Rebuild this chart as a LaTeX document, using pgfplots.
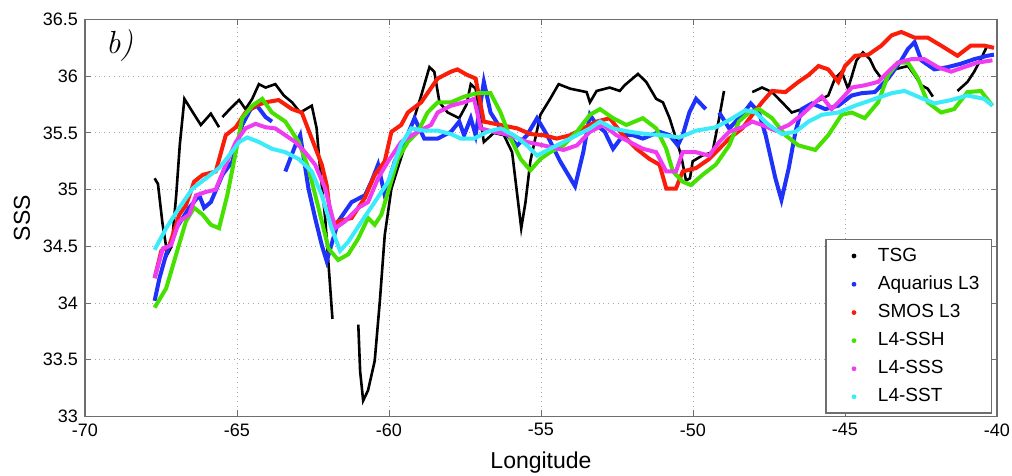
\documentclass[border=0pt]{standalone}
\usepackage{pgfplots}
\pgfplotsset{compat=1.18}
\usepackage{fontspec}
\setmainfont{Liberation Sans}
\newfontfamily\lmserif{Latin Modern Roman}
\definecolor{aqc}{RGB}{30,50,250}
\definecolor{smosc}{RGB}{250,30,10}
\definecolor{sshc}{RGB}{70,225,0}
\definecolor{sssc}{RGB}{240,60,240}
\definecolor{sstc}{RGB}{60,235,250}
\definecolor{framec}{RGB}{110,110,110}
\begin{document}
\begin{tikzpicture}
\begin{axis}[
  scale only axis,
  width=456pt, height=198.5pt,
  xmin=-70, xmax=-40, ymin=33, ymax=36.5,
  xtick={-70,-65,...,-40},
  ytick={33,33.5,...,36.5},
  /pgf/number format/assume math mode=true,
  /pgf/number format/fixed,
  ticklabel style={font=\fontsize{9}{9}\selectfont},
  tick align=inside,
  major tick length=3pt,
  every tick/.style={framec, line width=0.5pt},
  axis line style={framec, line width=0.8pt},
  grid=major,
  major grid style={dotted, gray!70, line width=0.5pt},
  xlabel={Longitude},
  ylabel={SSS},
  label style={font=\fontsize{11.5}{11.5}\selectfont},
  xlabel style={at={(axis description cs:0.5,-0.116)}, anchor=center},
  ylabel style={at={(axis description cs:-0.069,0.5)}, anchor=center},
  unbounded coords=jump,
  legend cell align=left,
  legend image code/.code={\path[draw=none,fill=none] (0pt,0pt) -- (20pt,0pt); \fill[#1,draw=none] (10pt,0pt) circle (1.2pt);},
  legend style={at={(rel axis cs:0.9945,0.0075)}, anchor=south east,
    draw=framec, line width=0.6pt, font=\fontsize{9.5}{9.5}\selectfont,
    row sep=1.9pt, inner xsep=4pt, inner ysep=2pt},
]
% TSG
\addplot[black, line width=1.3pt] coordinates {
(-67.71,35.10) (-67.60,35.05) (-67.45,34.70) (-67.29,34.43) (-67.15,34.50) (-67.00,34.95) (-66.88,35.40) (-66.73,35.80) (-66.45,35.68) (-66.19,35.57) (-65.86,35.67) (-65.59,35.55) (-65.54,nan) (-65.48,35.64) (-65.20,35.72) (-64.93,35.79) (-64.72,35.71) (-64.50,35.80) (-64.28,35.93) (-64.06,35.90) (-63.74,35.93) (-63.46,35.83) (-63.19,35.77) (-62.92,35.68) (-62.54,35.74) (-62.38,35.54) (-62.27,35.19) (-62.10,34.75) (-61.94,34.16) (-61.86,33.86) (-61.40,nan) (-61.01,33.81) (-60.95,33.40) (-60.85,33.14) (-60.69,33.23) (-60.47,33.49) (-60.30,34.02) (-60.14,34.60) (-59.92,35.01) (-59.71,35.19) (-59.40,35.45) (-59.15,35.65) (-58.94,35.83) (-58.67,36.08) (-58.51,36.04) (-58.34,35.77) (-58.07,35.68) (-57.69,35.63) (-57.45,35.75) (-57.31,35.93) (-57.15,35.89) (-56.88,35.42) (-56.55,35.50) (-56.22,35.48) (-55.95,35.33) (-55.78,34.95) (-55.65,34.66) (-55.51,34.89) (-55.35,35.25) (-55.02,35.66) (-54.70,35.80) (-54.42,35.93) (-54.04,35.89) (-53.50,35.86) (-53.39,35.77) (-53.17,35.87) (-52.74,35.90) (-52.41,35.87) (-52.25,35.92) (-51.81,36.02) (-51.54,35.95) (-51.21,35.80) (-50.99,35.77) (-50.77,35.63) (-50.56,35.45) (-50.39,35.30) (-50.23,35.08) (-50.10,35.10) (-50.01,35.25) (-49.70,35.30) (-49.36,35.33) (-49.14,35.63) (-48.98,35.87) (-48.50,nan) (-48.05,35.86) (-47.73,35.90) (-47.40,35.86) (-47.07,35.77) (-46.75,35.68) (-46.42,35.71) (-45.98,35.77) (-45.55,35.83) (-45.33,35.98) (-45.11,36.04) (-44.90,35.89) (-44.62,36.14) (-44.41,36.21) (-44.18,36.15) (-44.02,36.06) (-43.80,35.98) (-43.58,36.01) (-43.37,36.06) (-42.93,36.09) (-42.71,36.01) (-42.49,35.92) (-42.28,35.89) (-42.11,35.82) (-41.70,nan) (-41.30,35.87) (-40.97,35.95) (-40.75,36.04) (-40.53,36.15) (-40.32,36.27)
};
\addlegendentry{TSG}
% Aquarius L3
\addplot[aqc, line width=2pt] coordinates {
(-67.71,34.02) (-67.55,34.22) (-67.33,34.43) (-67.00,34.66) (-66.57,34.84) (-66.24,34.95) (-66.08,34.84) (-65.86,34.89) (-65.48,35.13) (-65.15,35.25) (-64.83,35.57) (-64.55,35.71) (-64.34,35.74) (-64.06,35.64) (-63.85,35.60) (-63.60,nan) (-63.41,35.16) (-63.08,35.39) (-62.92,35.48) (-62.65,35.01) (-62.43,34.75) (-62.21,34.51) (-62.05,34.37) (-61.67,34.72) (-61.23,34.89) (-60.79,34.95) (-60.58,35.07) (-60.36,35.22) (-60.14,34.95) (-59.81,35.25) (-59.49,35.42) (-59.16,35.63) (-58.84,35.45) (-58.40,35.45) (-57.96,35.51) (-57.69,35.60) (-57.53,35.48) (-57.31,35.63) (-57.15,35.48) (-56.88,35.95) (-56.66,35.68) (-56.33,35.54) (-56.00,35.45) (-55.78,35.39) (-55.46,35.48) (-55.13,35.63) (-54.80,35.48) (-54.37,35.25) (-53.88,35.03) (-53.61,35.33) (-53.39,35.66) (-53.17,35.57) (-52.90,35.51) (-52.63,35.36) (-52.30,35.48) (-51.97,35.48) (-51.65,35.45) (-51.10,35.51) (-50.77,35.48) (-50.50,35.39) (-50.34,35.48) (-50.12,35.68) (-49.90,35.80) (-49.58,35.71) (-49.35,nan) (-49.14,35.68) (-48.81,35.54) (-48.38,35.66) (-48.10,35.76) (-47.83,35.68) (-47.61,35.48) (-47.29,35.10) (-47.09,34.91) (-46.85,35.19) (-46.63,35.51) (-46.42,35.71) (-46.09,35.76) (-45.65,35.71) (-45.22,35.74) (-44.78,35.83) (-44.46,35.85) (-44.02,35.86) (-43.58,35.98) (-43.15,36.14) (-42.93,36.24) (-42.71,36.30) (-42.49,36.14) (-42.06,36.06) (-41.62,36.08) (-41.19,36.11) (-40.75,36.15) (-40.32,36.18) (-40.10,36.19)
};
\addlegendentry{Aquarius L3}
% SMOS L3
\addplot[smosc, line width=2pt] coordinates {
(-67.71,34.22) (-67.49,34.46) (-67.22,34.51) (-66.90,34.78) (-66.68,34.86) (-66.41,35.07) (-66.13,35.13) (-65.70,35.16) (-65.37,35.48) (-65.04,35.55) (-64.72,35.68) (-64.39,35.74) (-64.06,35.77) (-63.63,35.79) (-63.19,35.71) (-62.87,35.68) (-62.54,35.45) (-62.21,35.22) (-62.05,35.04) (-61.89,34.69) (-61.67,34.72) (-61.23,34.75) (-60.79,34.93) (-60.47,35.13) (-60.14,35.25) (-59.92,35.51) (-59.60,35.57) (-59.38,35.68) (-58.94,35.77) (-58.40,35.98) (-57.96,36.04) (-57.75,36.06) (-57.42,36.01) (-57.15,35.98) (-56.88,35.60) (-56.33,35.57) (-55.78,35.54) (-55.35,35.49) (-54.92,35.48) (-54.48,35.45) (-54.04,35.48) (-53.61,35.54) (-53.17,35.60) (-52.74,35.63) (-52.30,35.48) (-51.86,35.36) (-51.43,35.27) (-51.10,35.22) (-50.88,35.01) (-50.56,35.01) (-50.34,35.16) (-49.90,35.19) (-49.47,35.27) (-49.14,35.36) (-48.81,35.45) (-48.38,35.54) (-48.05,35.66) (-47.73,35.77) (-47.40,35.87) (-46.96,35.86) (-46.53,35.95) (-46.20,36.01) (-45.87,36.09) (-45.55,36.06) (-45.22,35.95) (-45.00,36.09) (-44.67,36.18) (-44.23,36.19) (-43.80,36.27) (-43.47,36.36) (-43.15,36.39) (-42.71,36.34) (-42.28,36.34) (-41.84,36.27) (-41.30,36.18) (-40.86,36.27) (-40.42,36.27) (-40.10,36.25)
};
\addlegendentry{SMOS L3}
% L4-SSH
\addplot[sshc, line width=2pt] coordinates {
(-67.71,33.96) (-67.33,34.13) (-67.00,34.43) (-66.68,34.72) (-66.41,34.84) (-66.13,34.78) (-65.86,34.69) (-65.59,34.66) (-65.32,34.95) (-65.04,35.33) (-64.83,35.63) (-64.50,35.74) (-64.17,35.80) (-63.85,35.68) (-63.41,35.60) (-62.97,35.42) (-62.65,35.19) (-62.32,34.84) (-61.99,34.48) (-61.67,34.38) (-61.34,34.43) (-61.01,34.57) (-60.69,34.75) (-60.47,34.69) (-60.25,34.78) (-60.03,34.98) (-59.71,35.27) (-59.38,35.42) (-59.05,35.51) (-58.73,35.68) (-58.40,35.77) (-57.96,35.77) (-57.53,35.82) (-57.09,35.85) (-56.66,35.85) (-56.33,35.68) (-56.00,35.45) (-55.67,35.27) (-55.35,35.17) (-55.02,35.27) (-54.70,35.33) (-54.26,35.39) (-53.82,35.51) (-53.39,35.66) (-53.06,35.71) (-52.63,35.63) (-52.19,35.57) (-51.65,35.63) (-51.21,35.54) (-50.88,35.36) (-50.66,35.16) (-50.34,35.07) (-50.07,35.04) (-49.69,35.13) (-49.25,35.22) (-48.81,35.39) (-48.49,35.60) (-48.16,35.68) (-47.83,35.71) (-47.40,35.63) (-46.96,35.48) (-46.53,35.39) (-45.98,35.35) (-45.55,35.48) (-45.11,35.66) (-44.78,35.68) (-44.35,35.63) (-43.91,35.77) (-43.58,36.01) (-43.26,36.12) (-42.93,36.12) (-42.60,35.98) (-42.28,35.77) (-41.84,35.68) (-41.41,35.71) (-40.97,35.86) (-40.53,35.87) (-40.15,35.74)
};
\addlegendentry{L4-SSH}
% L4-SSS
\addplot[sssc, line width=2pt] coordinates {
(-67.71,34.22) (-67.44,34.48) (-67.17,34.51) (-66.90,34.72) (-66.57,34.78) (-66.35,34.95) (-66.02,34.98) (-65.70,35.00) (-65.37,35.22) (-65.04,35.42) (-64.72,35.54) (-64.39,35.58) (-64.06,35.55) (-63.74,35.54) (-63.41,35.48) (-63.08,35.42) (-62.76,35.33) (-62.43,35.22) (-62.10,35.01) (-61.77,34.66) (-61.45,34.72) (-61.01,34.84) (-60.69,34.89) (-60.36,35.10) (-60.03,35.25) (-59.60,35.42) (-59.05,35.51) (-58.62,35.57) (-58.40,35.68) (-57.96,35.74) (-57.53,35.77) (-57.20,35.80) (-56.98,35.54) (-56.55,35.51) (-56.00,35.48) (-55.46,35.42) (-54.92,35.39) (-54.26,35.35) (-53.82,35.39) (-53.39,35.51) (-52.95,35.57) (-52.52,35.48) (-52.08,35.42) (-51.65,35.36) (-51.21,35.33) (-50.88,35.16) (-50.56,35.16) (-50.34,35.33) (-49.90,35.33) (-49.47,35.30) (-49.14,35.42) (-48.81,35.51) (-48.38,35.55) (-48.05,35.60) (-47.73,35.57) (-47.29,35.52) (-46.85,35.57) (-46.42,35.66) (-45.98,35.77) (-45.76,35.82) (-45.44,35.71) (-45.11,35.80) (-44.78,35.90) (-44.35,35.92) (-43.91,35.95) (-43.58,36.04) (-43.26,36.12) (-42.82,36.15) (-42.39,36.15) (-41.95,36.08) (-41.51,36.04) (-41.08,36.08) (-40.64,36.12) (-40.15,36.14)
};
\addlegendentry{L4-SSS}
% L4-SST
\addplot[sstc, line width=2pt] coordinates {
(-67.71,34.47) (-67.33,34.66) (-66.90,34.84) (-66.46,35.01) (-66.02,35.10) (-65.59,35.19) (-65.26,35.30) (-64.93,35.42) (-64.66,35.46) (-64.28,35.42) (-63.85,35.36) (-63.41,35.33) (-62.97,35.27) (-62.54,35.16) (-62.21,34.95) (-61.89,34.66) (-61.61,34.46) (-61.34,34.54) (-60.90,34.72) (-60.47,34.89) (-60.03,35.07) (-59.60,35.40) (-59.27,35.54) (-58.84,35.52) (-58.40,35.52) (-57.96,35.49) (-57.64,35.45) (-57.20,35.45) (-56.77,35.51) (-56.33,35.54) (-55.89,35.48) (-55.46,35.39) (-55.13,35.30) (-54.70,35.36) (-54.26,35.42) (-53.82,35.48) (-53.39,35.54) (-53.06,35.60) (-52.63,35.54) (-52.08,35.51) (-51.54,35.49) (-50.99,35.48) (-50.45,35.46) (-49.90,35.52) (-49.25,35.55) (-48.70,35.63) (-48.27,35.70) (-47.94,35.68) (-47.51,35.57) (-47.07,35.49) (-46.63,35.51) (-46.20,35.60) (-45.76,35.66) (-45.22,35.68) (-44.67,35.74) (-44.02,35.80) (-43.47,35.85) (-43.04,35.87) (-42.60,35.82) (-42.06,35.76) (-41.51,35.79) (-40.97,35.83) (-40.42,35.80) (-40.15,35.74)
};
\addlegendentry{L4-SST}
\node[font=\lmserif\itshape\fontsize{16}{16}\selectfont] at (rel axis cs:0.038,0.935) {b)};
\end{axis}
\pgfresetboundingbox
\path ([shift={(-42.5pt,-29.5pt)}]current axis.south west) rectangle ([shift={(7.5pt,9.75pt)}]current axis.north east);
\end{tikzpicture}
\end{document}
